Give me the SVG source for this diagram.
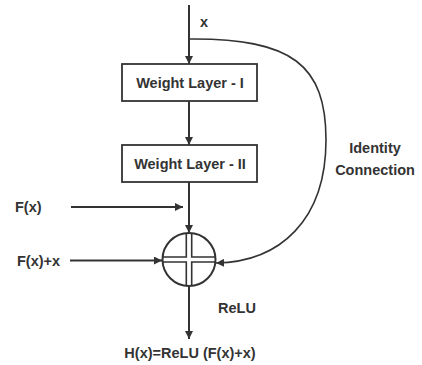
<svg xmlns="http://www.w3.org/2000/svg" width="422" height="365" viewBox="0 0 422 365">
<style>
text{font-family:"Liberation Sans",Arial,sans-serif;font-weight:bold;font-size:14.5px;fill:#333}
.ln{stroke:#333;stroke-width:2;fill:none}
.thin{stroke:#333;stroke-width:1.6;fill:none}
.box{fill:#fff;stroke:#333;stroke-width:1.8}
</style>
<defs>
<marker id="ah" viewBox="0 0 10 10" refX="10" refY="5" markerWidth="9" markerHeight="8" markerUnits="userSpaceOnUse" orient="auto">
<path d="M0,0 L10,5 L0,10 Z" fill="#333"/>
</marker>
</defs>
<g id="connectors">
<line class="ln" x1="189" y1="5" x2="189" y2="64" marker-end="url(#ah)"/>
<line class="ln" x1="189" y1="101" x2="189" y2="145" marker-end="url(#ah)"/>
<line class="ln" x1="189" y1="182" x2="189" y2="233" marker-end="url(#ah)"/>
<line class="ln" x1="189" y1="286" x2="189" y2="339" marker-end="url(#ah)"/>
<line class="ln" x1="71" y1="207" x2="183" y2="207" marker-end="url(#ah)"/>
<line class="ln" x1="70" y1="260.5" x2="162" y2="260.5" marker-end="url(#ah)"/>
<path class="thin" d="M189,39 C292,38 326,65 326,140 C326,220 280,262 216,263" marker-end="url(#ah)"/>
</g>
<g id="label-x"><text x="200" y="27">x</text></g>
<g id="weight1">
<rect class="box" x="122" y="64" width="135" height="37"/>
<text x="190" y="87.5" text-anchor="middle">Weight Layer - I</text>
</g>
<g id="weight2">
<rect class="box" x="122" y="145" width="135" height="37"/>
<text x="190" y="168.5" text-anchor="middle">Weight Layer - II</text>
</g>
<g id="sum">
<circle cx="189" cy="259.5" r="26.5" fill="#fff" stroke="#333" stroke-width="2"/>
<path d="M186.3,233 V257 H162.5 M191.7,233 V257 H215.5 M186.3,286 V262 H162.5 M191.7,286 V262 H215.5" fill="none" stroke="#333" stroke-width="1.6"/>
</g>
<g id="label-fx"><text x="15" y="212">F(x)</text></g>
<g id="label-fxx"><text x="17" y="266">F(x)+x</text></g>
<g id="label-identity">
<text x="375" y="153" text-anchor="middle">Identity</text>
<text x="375" y="175" text-anchor="middle">Connection</text>
</g>
<g id="label-relu"><text x="218" y="313">ReLU</text></g>
<g id="label-hx"><text x="190" y="358" text-anchor="middle">H(x)=ReLU (F(x)+x)</text></g>
</svg>
